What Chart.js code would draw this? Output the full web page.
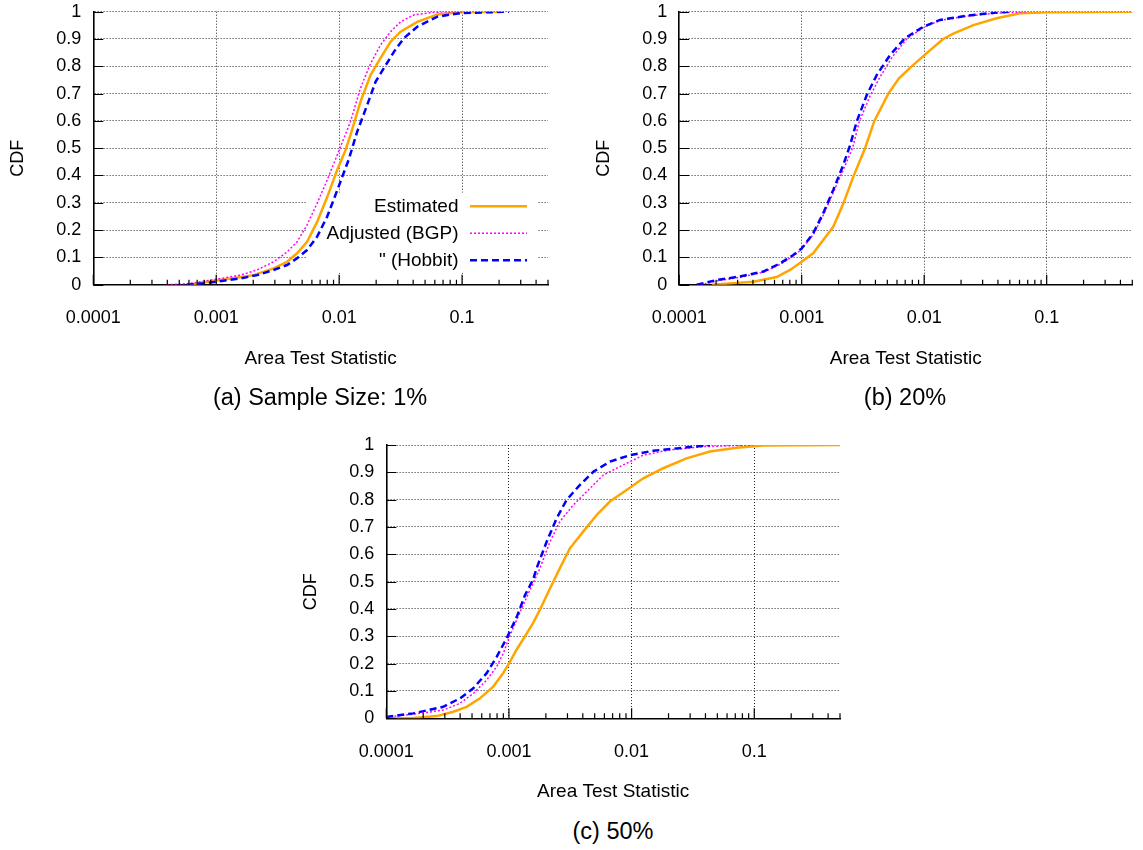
<!DOCTYPE html>
<html>
<head>
<meta charset="utf-8">
<script src="https://cdn.jsdelivr.net/npm/chart.js@4"></script>
<style>
  body { margin: 0; background: #fff; width: 1143px; height: 850px; position: relative; overflow: hidden;
         font-family: "Liberation Sans", Arial, sans-serif; color: #000; }
  canvas { position: absolute; }
  .cap { position: absolute; font-size: 23.5px; line-height: 1; transform: translate(-50%, -50%); white-space: nowrap; }
</style>
</head>
<body>
<canvas id="grafA" width="565" height="385" style="left:0px;top:0px"></canvas>
<canvas id="grafB" width="558" height="385" style="left:585px;top:0px"></canvas>
<canvas id="grafC" width="565" height="385" style="left:293px;top:433px"></canvas>
<div class="cap" style="left:320px;top:398px">(a) Sample Size: 1%</div>
<div class="cap" style="left:905px;top:398px">(b) 20%</div>
<div class="cap" style="left:613px;top:832px">(c) 50%</div>
<script>
// eixos
const xMajor = [0.0001, 0.001, 0.01, 0.1];
const xMajorLabels = ['0.0001', '0.001', '0.01', '0.1'];
const xMin = 0.0001;
const xMax = 0.5;
const yTicks = [0, 0.1, 0.2, 0.3, 0.4, 0.5, 0.6, 0.7, 0.8, 0.9, 1];
const yTickLabels = ['0', '0.1', '0.2', '0.3', '0.4', '0.5', '0.6', '0.7', '0.8', '0.9', '1'];
const seriesNames = ['Estimated', 'Adjusted (BGP)', '" (Hobbit)'];
const xTitle = 'Area Test Statistic';
const yTitle = 'CDF';

// (a) Sample Size: 1%  -> [x, CDF]
const estimatedA = [[5.8e-4, 0], [7e-4, 0.004], [1.0e-3, 0.015], [1.5e-3, 0.026], [2.01e-3, 0.035], [2.93e-3, 0.06],
  [3.77e-3, 0.084], [4.55e-3, 0.115], [5.48e-3, 0.157], [6.62e-3, 0.23], [7.98e-3, 0.32], [9.64e-3, 0.42],
  [0.0112, 0.49], [0.01236, 0.548], [0.0149, 0.67], [0.018, 0.768], [0.0217, 0.83], [0.0262, 0.89], [0.0316, 0.927],
  [0.0432, 0.963], [0.063, 0.99], [0.0974, 0.998], [0.2, 1]];
const adjustedA = [[3.96e-4, 0], [6e-4, 0.004], [1e-3, 0.02], [1.57e-3, 0.035], [2.15e-3, 0.054], [2.93e-3, 0.084],
  [3.77e-3, 0.12], [4.55e-3, 0.157], [5.48e-3, 0.219], [6.62e-3, 0.298], [7.98e-3, 0.383], [9.64e-3, 0.475],
  [0.01236, 0.597], [0.0149, 0.72], [0.018, 0.81], [0.0217, 0.878], [0.0262, 0.927], [0.0316, 0.963],
  [0.0405, 0.988], [0.059, 0.998], [0.1, 1]];
const hobbitA = [[5.77e-4, 0], [8e-4, 0.005], [1e-3, 0.011], [1.57e-3, 0.023], [2.15e-3, 0.035], [2.93e-3, 0.054],
  [3.77e-3, 0.072], [4.55e-3, 0.097], [5.48e-3, 0.127], [6.62e-3, 0.176], [7.98e-3, 0.249], [9.0e-3, 0.31],
  [0.0103, 0.38], [0.012, 0.46], [0.014, 0.56], [0.0169, 0.658], [0.0198, 0.744], [0.0231, 0.793],
  [0.0279, 0.853], [0.0336, 0.903], [0.0432, 0.945], [0.063, 0.982], [0.0974, 0.995], [0.24, 1]];

// (b) 20%
const estimatedB = [[1.85e-4, 0], [4.03e-4, 0.011], [6.25e-4, 0.028], [8.03e-4, 0.054], [1e-3, 0.084], [1.24e-3, 0.115],
  [1.5e-3, 0.164], [1.81e-3, 0.212], [2.19e-3, 0.298], [2.64e-3, 0.396], [3.29e-3, 0.5], [3.92e-3, 0.6],
  [5.1e-3, 0.7], [6.2e-3, 0.755], [7.9e-3, 0.8], [0.0106, 0.85], [0.0143, 0.9], [0.0173, 0.92],
  [0.0252, 0.951], [0.0391, 0.976], [0.0605, 0.994], [0.1, 0.998], [0.5, 1]];
const adjustedB = [[1.5e-4, 0], [2.1e-4, 0.015], [3.2e-4, 0.028], [4.9e-4, 0.046], [6.7e-4, 0.075], [8.6e-4, 0.106],
  [1e-3, 0.13], [1.25e-3, 0.185], [1.52e-3, 0.26], [1.84e-3, 0.345], [2.23e-3, 0.43], [2.6e-3, 0.5],
  [2.95e-3, 0.597], [3.6e-3, 0.69], [4.35e-3, 0.76], [5.5e-3, 0.835], [7.2e-3, 0.9], [9.9e-3, 0.943],
  [0.0135, 0.968], [0.0222, 0.984], [0.04, 0.995], [0.07, 1]];
const hobbitB = [[1.39e-4, 0], [2.02e-4, 0.017], [3.13e-4, 0.03], [4.86e-4, 0.048], [6.65e-4, 0.078], [8.54e-4, 0.109],
  [1e-3, 0.133], [1.24e-3, 0.188], [1.5e-3, 0.262], [1.81e-3, 0.347], [2.19e-3, 0.44], [2.48e-3, 0.51],
  [2.81e-3, 0.597], [3.4e-3, 0.695], [4.1e-3, 0.768], [5.26e-3, 0.841], [6.97e-3, 0.903], [9.84e-3, 0.945],
  [0.01346, 0.97], [0.0222, 0.985], [0.035, 0.995], [0.05, 1]];

// (c) 50%
const estimatedC = [[1.1e-4, 0], [1.66e-4, 0.001], [2.57e-4, 0.008], [3.52e-4, 0.024], [4.52e-4, 0.042], [5.8e-4, 0.073],
  [7.45e-4, 0.116], [8.8e-4, 0.16], [1.0e-3, 0.2], [1.15e-3, 0.25], [1.35e-3, 0.3], [1.58e-3, 0.35], [1.8e-3, 0.4],
  [2.16e-3, 0.475], [2.6e-3, 0.549], [3.14e-3, 0.622], [4.03e-3, 0.683], [5.19e-3, 0.744], [6.65e-3, 0.793],
  [9.1e-3, 0.835], [0.01245, 0.878], [0.0181, 0.915], [0.028, 0.951], [0.0435, 0.976], [0.0718, 0.99],
  [0.118, 0.998], [0.5, 1]];
const adjustedC = [[1e-4, 0.005], [1.66e-4, 0.015], [2.91e-4, 0.03], [3.99e-4, 0.055], [5.12e-4, 0.091], [6.58e-4, 0.14],
  [7.94e-4, 0.189], [9.0e-4, 0.238], [1.01e-3, 0.299], [1.22e-3, 0.384], [1.44e-3, 0.457], [1.79e-3, 0.549],
  [2.16e-3, 0.646], [2.6e-3, 0.72], [3.34e-3, 0.78], [4.3e-3, 0.829], [5.87e-3, 0.89], [8.55e-3, 0.927],
  [0.01245, 0.963], [0.0205, 0.982], [0.0384, 0.994], [0.098, 1]];
const hobbitC = [[1e-4, 0.005], [1.66e-4, 0.018], [2.91e-4, 0.042], [3.99e-4, 0.073], [5.12e-4, 0.11], [6.58e-4, 0.165],
  [7.94e-4, 0.225], [9.58e-4, 0.293], [1.16e-3, 0.372], [1.35e-3, 0.45], [1.58e-3, 0.51], [1.68e-3, 0.549],
  [2.03e-3, 0.646], [2.45e-3, 0.732], [2.95e-3, 0.799], [3.79e-3, 0.854], [4.87e-3, 0.902], [6.65e-3, 0.939],
  [9.68e-3, 0.963], [0.015, 0.979], [0.0263, 0.99], [0.0435, 1]];

const FONT = '"Liberation Sans", Arial, sans-serif';
const gridColor = 'rgba(0,0,0,0.85)';

// marcas do eixo x: 1..9 por decada, ate xMax
const xTickValues = [];
xMajor.forEach(m => {
  for (let k = 1; k <= 9; k++) {
    if (m * k <= xMax * 1.0001) xTickValues.push(m * k);
  }
});

// estilo gnuplot: tracinhos para dentro
const inwardTicks = {
  id: 'inwardTicks',
  afterDraw(chart) {
    const { ctx, chartArea: a, scales: { x, y } } = chart;
    ctx.save();
    ctx.strokeStyle = '#000';
    ctx.lineWidth = 1.2;
    ctx.beginPath();
    x.ticks.forEach(t => {
      const px = x.getPixelForValue(t.value);
      const len = xMajor.includes(t.value) ? 10 : 5;
      ctx.moveTo(px, a.bottom);
      ctx.lineTo(px, a.bottom - len);
    });
    y.ticks.forEach(t => {
      const py = Math.round(y.getPixelForValue(t.value)) + 0.5;
      ctx.moveTo(a.left, py);
      ctx.lineTo(a.left + 10, py);
    });
    ctx.stroke();
    ctx.restore();
  }
};

// titulo do eixo y um pouco abaixo do centro, como no original
const yAxisTitle = {
  id: 'yAxisTitle',
  afterDraw(chart) {
    const { ctx, chartArea: a } = chart;
    ctx.save();
    ctx.translate(a.left - 75.5, (a.top + a.bottom) / 2 + 10);
    ctx.rotate(-Math.PI / 2);
    ctx.font = '18px ' + FONT;
    ctx.fillStyle = '#000';
    ctx.textAlign = 'center';
    ctx.textBaseline = 'middle';
    ctx.fillText(chart.options.scales.y.title.text, 0, 0);
    ctx.restore();
  }
};

// legenda dentro do grafico (a), caixa branca por cima da grade
const cornerKey = {
  id: 'cornerKey',
  beforeDatasetsDraw(chart, args, opts) {
    if (!opts.show) return;
    const { ctx, chartArea: a } = chart;
    ctx.save();
    ctx.fillStyle = '#fff';
    ctx.fillRect(a.right - 241, a.bottom - 92, 230, 80);
    ctx.restore();
  },
  afterDatasetsDraw(chart, args, opts) {
    if (!opts.show) return;
    const { ctx, chartArea: a } = chart;
    ctx.save();
    ctx.font = '19px ' + FONT;
    ctx.textAlign = 'right';
    ctx.textBaseline = 'middle';
    chart.data.datasets.forEach((ds, i) => {
      const y = a.bottom - 78.5 + i * 27;
      ctx.fillStyle = '#000';
      ctx.fillText(ds.label, a.right - 89.5, y + 1);
      ctx.strokeStyle = ds.borderColor;
      ctx.lineWidth = ds.borderWidth;
      ctx.setLineDash(ds.borderDash || []);
      ctx.beginPath();
      ctx.moveTo(a.right - 78, y);
      ctx.lineTo(a.right - 21, y);
      ctx.stroke();
    });
    ctx.restore();
  }
};

function toPoints(pares) {
  return pares.map(p => ({ x: p[0], y: p[1] }));
}

// sem folga extra dos rotulos: a area do grafico fica onde o layout manda
function semFolga(scale) {
  scale.paddingTop = 0;
  scale.paddingBottom = 0;
  scale.paddingLeft = 0;
  scale.paddingRight = 0;
}

function criarGrafico(id, series, legenda, pad, larguraY, alturaX) {
  const estilos = [
    { borderColor: '#FFA500', borderWidth: 2.5, borderDash: [], order: 3 },
    { borderColor: '#FF00FF', borderWidth: 1.5, borderDash: [2, 2], order: 2 },
    { borderColor: '#0000FF', borderWidth: 2.5, borderDash: [7, 4], order: 1 }
  ];
  return new Chart(document.getElementById(id), {
    type: 'line',
    data: {
      datasets: series.map((s, i) => Object.assign({
        label: seriesNames[i],
        data: toPoints(s),
        pointRadius: 0,
        tension: 0,
        fill: false
      }, estilos[i]))
    },
    options: {
      responsive: false,
      animation: false,
      devicePixelRatio: 1,
      layout: { padding: { top: pad.top, right: pad.right, left: 0, bottom: 0 } },
      plugins: {
        legend: { display: false },
        tooltip: { enabled: false },
        cornerKey: { show: legenda }
      },
      scales: {
        x: {
          type: 'logarithmic',
          min: xMin,
          max: xMax,
          afterBuildTicks: scale => { scale.ticks = xTickValues.map(v => ({ value: v })); },
          afterFit: scale => { scale.height = alturaX; semFolga(scale); },
          ticks: {
            autoSkip: false,
            maxRotation: 0,
            minRotation: 0,
            padding: 23,
            color: '#000',
            font: { family: FONT, size: 18 },
            callback: value => {
              const i = xMajor.indexOf(value);
              return i >= 0 ? xMajorLabels[i] : '';
            }
          },
          grid: {
            drawTicks: false,
            lineWidth: 1,
            color: c => (c.tick && xMajor.includes(c.tick.value) && c.tick.value !== xMin) ? gridColor : 'rgba(0,0,0,0)'
          },
          border: { display: true, color: '#000', width: 1.6, dash: [1, 2] },
          title: {
            display: true,
            text: xTitle,
            color: '#000',
            font: { family: FONT, size: 19 },
            padding: { top: 0, bottom: 15 }
          }
        },
        y: {
          type: 'linear',
          min: 0,
          max: 1,
          afterBuildTicks: scale => { scale.ticks = yTicks.map(v => ({ value: v })); },
          afterFit: scale => { scale.width = larguraY; semFolga(scale); },
          ticks: {
            padding: 12,
            color: '#000',
            font: { family: FONT, size: 18 },
            callback: (value, index) => yTickLabels[index]
          },
          grid: {
            drawTicks: false,
            lineWidth: 1,
            color: c => (c.tick && c.tick.value > 0) ? gridColor : 'rgba(0,0,0,0)'
          },
          border: { display: true, color: '#000', width: 1.6, dash: [1, 2] },
          title: { display: false, text: yTitle }
        }
      }
    },
    plugins: [cornerKey, inwardTicks, yAxisTitle]
  });
}

criarGrafico('grafA', [estimatedA, adjustedA, hobbitA], true, { top: 11.7, right: 17 }, 93.3, 100.3);
criarGrafico('grafB', [estimatedB, adjustedB, hobbitB], false, { top: 11.7, right: 10.7 }, 94.2, 100.3);
criarGrafico('grafC', [estimatedC, adjustedC, hobbitC], false, { top: 12, right: 18 }, 93.3, 99.7);
</script>
</body>
</html>
